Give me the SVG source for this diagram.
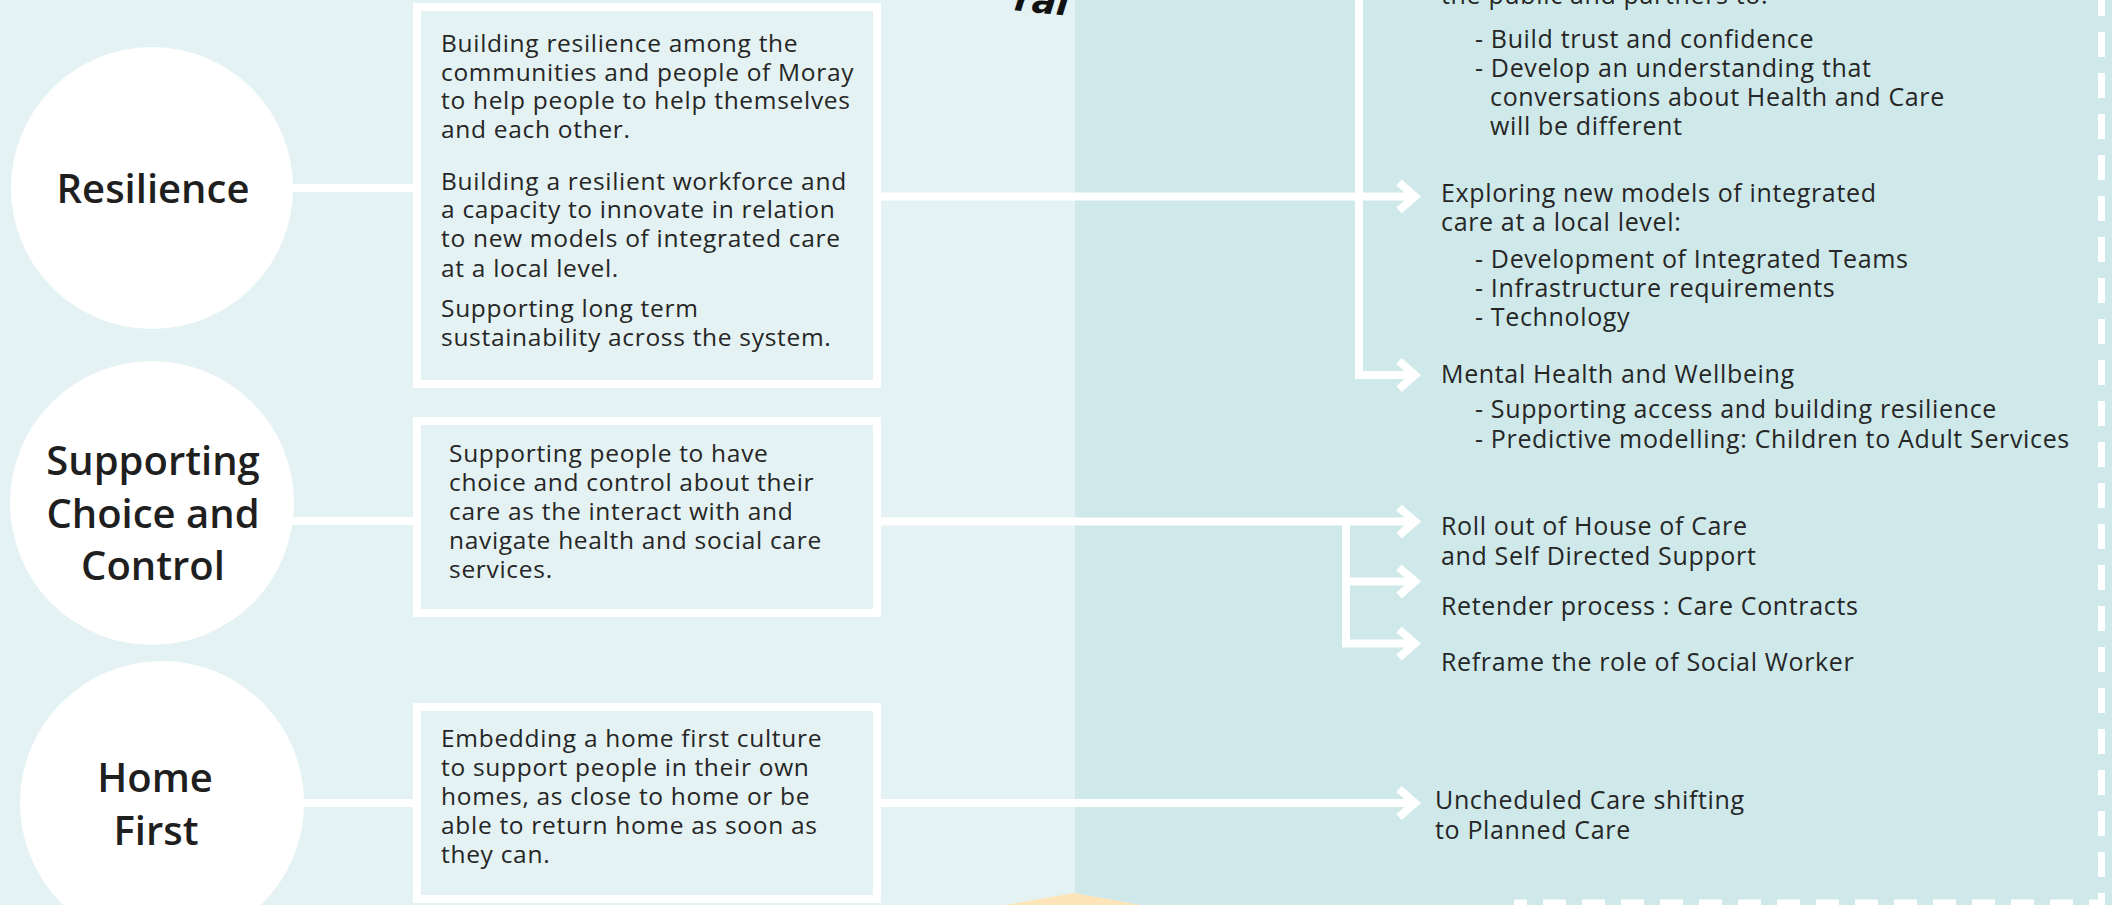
<svg xmlns="http://www.w3.org/2000/svg" width="2112" height="905" viewBox="0 0 2112 905">
  <style>
    .body { font-family: "Open Sans", "Noto Sans", sans-serif; fill: #262626; }
    .rt { font-size: 25px; letter-spacing: 0.65px; }
    .bx { font-size: 24.5px; letter-spacing: 0.7px; }
    .lbl { font-family: "Open Sans", "Noto Sans", sans-serif; font-weight: 600; font-size: 40px; fill: #1f1f1f; text-anchor: middle; }
    .circ { fill: #ffffff; }
    .box { fill: #e4f2f3; stroke: #ffffff; stroke-width: 8; }
    .conn { fill: none; stroke: #ffffff; stroke-width: 8; stroke-linejoin: miter; }
    .arr { marker-end: url(#chev); }
    .dash { fill: none; stroke: #ffffff; stroke-width: 7; }
  </style>
  <defs>
    <marker id="chev" markerUnits="userSpaceOnUse" viewBox="-30 -25 40 50" markerWidth="40" markerHeight="50" refX="0" refY="0" orient="auto">
      <path d="M-16 -14 L0 0 L-16 14" fill="none" stroke="#ffffff" stroke-width="8" stroke-linejoin="miter"/>
    </marker>
  </defs>

  <!-- background panels -->
  <rect x="0" y="0" width="1075" height="905" fill="#e4f2f3"/>
  <rect x="1075" y="0" width="1037" height="905" fill="#cfe9ea"/>
  <polygon points="1005,905 1074,893 1141,905" fill="#fde4b9"/>

  <!-- dashed frame -->
  <line class="dash" x1="2101.5" y1="-9" x2="2101.5" y2="906" stroke-dasharray="25 16"/>
  <line class="dash" x1="1514" y1="903" x2="2105" y2="903" stroke-dasharray="23 16" stroke-dashoffset="10"/>

  <!-- fragment of handwritten text at top edge -->
  <text x="1068" y="13" font-family="DejaVu Sans, sans-serif" font-weight="bold" font-style="italic" font-size="36" fill="#111111" text-anchor="end" transform="rotate(6 1040 10)">ral</text>

  <!-- connectors -->
  <g id="connectors">
    <path class="conn" d="M280 188 H417"/>
    <path class="conn arr" d="M877 196.5 H1415"/>
    <path class="conn" d="M1359 -5 V196.5"/>
    <path class="conn arr" d="M1359 190 V375 H1415"/>
    <path class="conn" d="M280 521 H417"/>
    <path class="conn arr" d="M877 521.5 H1415"/>
    <path class="conn arr" d="M1346 521.5 V643.5 H1415"/>
    <path class="conn arr" d="M1346 581.5 H1415"/>
    <path class="conn" d="M290 803 H417"/>
    <path class="conn arr" d="M877 803 H1415"/>
  </g>

  <!-- circles -->
  <g id="resilience">
    <circle class="circ" cx="152" cy="188" r="141"/>
    <text class="lbl" x="153" y="203">Resilience</text>
  </g>
  <g id="choice-control">
    <circle class="circ" cx="152" cy="503" r="142"/>
    <text class="lbl"><tspan x="153" y="475">Supporting</tspan><tspan x="153" y="528">Choice and</tspan><tspan x="153" y="580">Control</tspan></text>
  </g>
  <g id="home-first">
    <circle class="circ" cx="162" cy="803" r="142"/>
    <text class="lbl"><tspan x="155" y="792">Home</tspan><tspan x="156" y="845">First</tspan></text>
  </g>

  <!-- boxes -->
  <g id="box-resilience">
    <rect class="box" x="417" y="7" width="460" height="377"/>
    <text class="body bx"><tspan x="441" y="52">Building resilience among the</tspan><tspan x="441" y="80.5">communities and people of Moray</tspan><tspan x="441" y="109">to help people to help themselves</tspan><tspan x="441" y="138">and each other.</tspan><tspan x="441" y="189.5">Building a resilient workforce and</tspan><tspan x="441" y="218">a capacity to innovate in relation</tspan><tspan x="441" y="247">to new models of integrated care</tspan><tspan x="441" y="276.5">at a local level.</tspan><tspan x="441" y="317">Supporting long term</tspan><tspan x="441" y="346">sustainability across the system.</tspan></text>
  </g>
  <g id="box-choice">
    <rect class="box" x="417" y="421" width="460" height="192"/>
    <text class="body bx"><tspan x="449" y="462">Supporting people to have</tspan><tspan x="449" y="491">choice and control about their</tspan><tspan x="449" y="520">care as the interact with and</tspan><tspan x="449" y="548.5">navigate health and social care</tspan><tspan x="449" y="578">services.</tspan></text>
  </g>
  <g id="box-home">
    <rect class="box" x="417" y="707" width="460" height="192"/>
    <text class="body bx"><tspan x="441" y="747">Embedding a home first culture</tspan><tspan x="441" y="776">to support people in their own</tspan><tspan x="441" y="805">homes, as close to home or be</tspan><tspan x="441" y="834">able to return home as soon as</tspan><tspan x="441" y="863">they can.</tspan></text>
  </g>

  <!-- right side outcomes -->
  <g id="engage">
    <text class="body rt"><tspan x="1441" y="4">the public and partners to:</tspan><tspan x="1475" y="48">- Build trust and confidence</tspan><tspan x="1475" y="77">- Develop an understanding that</tspan><tspan x="1490" y="106">conversations about Health and Care</tspan><tspan x="1490" y="135">will be different</tspan></text>
  </g>
  <g id="integrated-care">
    <text class="body rt"><tspan x="1441" y="202">Exploring new models of integrated</tspan><tspan x="1441" y="231">care at a local level:</tspan><tspan x="1475" y="268">- Development of Integrated Teams</tspan><tspan x="1475" y="297">- Infrastructure requirements</tspan><tspan x="1475" y="326">- Technology</tspan></text>
  </g>
  <g id="mental-health">
    <text class="body rt"><tspan x="1441" y="383">Mental Health and Wellbeing</tspan><tspan x="1475" y="418">- Supporting access and building resilience</tspan><tspan x="1475" y="448">- Predictive modelling: Children to Adult Services</tspan></text>
  </g>
  <g id="house-of-care">
    <text class="body rt"><tspan x="1441" y="535">Roll out of House of Care</tspan><tspan x="1441" y="565">and Self Directed Support</tspan></text>
  </g>
  <g id="retender">
    <text class="body rt" x="1441" y="615">Retender process : Care Contracts</text>
  </g>
  <g id="social-worker">
    <text class="body rt" x="1441" y="671">Reframe the role of Social Worker</text>
  </g>
  <g id="unscheduled">
    <text class="body rt"><tspan x="1435" y="809">Uncheduled Care shifting</tspan><tspan x="1435" y="839">to Planned Care</tspan></text>
  </g>
</svg>
